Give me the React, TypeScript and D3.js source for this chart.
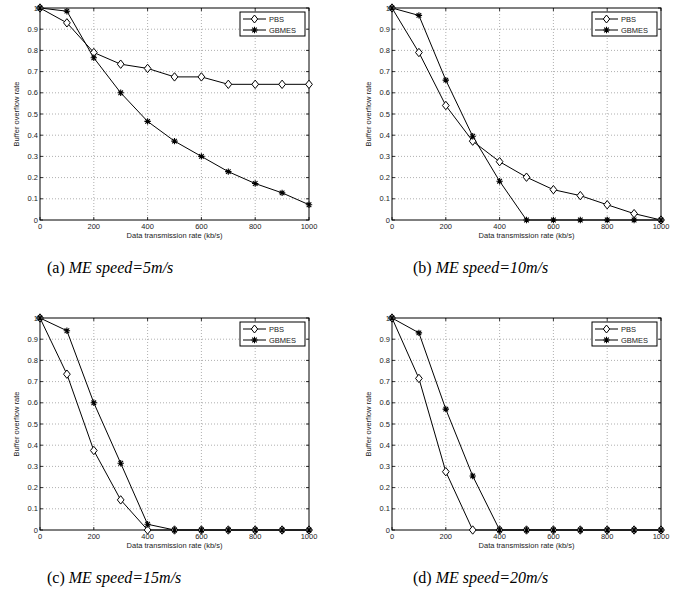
import * as d3 from "d3";
import React from "react";

// x values (kb/s) shared by every panel
const rates: number[] = [0, 100, 200, 300, 400, 500, 600, 700, 800, 900, 1000];
const xTicks: number[] = [0, 200, 400, 600, 800, 1000];
const yTicks: number[] = [0, 0.1, 0.2, 0.3, 0.4, 0.5, 0.6, 0.7, 0.8, 0.9, 1];
const seriesNames: string[] = ["PBS", "GBMES"];

// Buffer overflow rate, one array per panel and series
const pbs5: number[] = [1, 0.93, 0.79, 0.735, 0.715, 0.675, 0.675, 0.64, 0.64, 0.64, 0.64];
const gbmes5: number[] = [1, 0.985, 0.765, 0.6, 0.465, 0.372, 0.3, 0.228, 0.172, 0.128, 0.072];
const pbs10: number[] = [1, 0.79, 0.54, 0.372, 0.275, 0.202, 0.143, 0.115, 0.072, 0.03, 0];
const gbmes10: number[] = [1, 0.965, 0.66, 0.395, 0.183, 0, 0, 0, 0, 0, 0];
const pbs15: number[] = [1, 0.735, 0.375, 0.142, 0, 0, 0, 0, 0, 0, 0];
const gbmes15: number[] = [1, 0.94, 0.6, 0.315, 0.027, 0, 0, 0, 0, 0, 0];
const pbs20: number[] = [1, 0.715, 0.275, 0, 0, 0, 0, 0, 0, 0, 0];
const gbmes20: number[] = [1, 0.93, 0.57, 0.255, 0, 0, 0, 0, 0, 0, 0];

const captionLetters: string[] = ["(a)", "(b)", "(c)", "(d)"];
const captionTexts: string[] = ["ME speed=5m/s", "ME speed=10m/s", "ME speed=15m/s", "ME speed=20m/s"];

const xLabel = "Data transmission rate (kb/s)";
const yLabel = "Buffer overflow rate";

const panelData = [
  [pbs5, gbmes5],
  [pbs10, gbmes10],
  [pbs15, gbmes15],
  [pbs20, gbmes20],
];

// layout
const W = 689;
const H = 596;
const plotW = 269;
const plotH = 212;
const origins = [
  [40, 8],
  [392, 8],
  [40, 318],
  [392, 318],
];
const captionX = [47, 413, 47, 413];
const font = "'Liberation Sans', Arial, Helvetica, sans-serif";

const diamond = (s: number) => `M0,${-s}L${s * 0.8},0L0,${s}L${-s * 0.8},0Z`;
const star = (s: number) => {
  const d = s * 0.72;
  return `M0,${-s}V${s}M${-s},0H${s}M${-d},${-d}L${d},${d}M${-d},${d}L${d},${-d}`;
};

function Panel({ idx }: { idx: number }) {
  const [ox, oy] = origins[idx];
  const x = d3.scaleLinear().domain([0, 1000]).range([0, plotW]);
  const y = d3.scaleLinear().domain([0, 1]).range([plotH, 0]);
  const line = d3
    .line<number>()
    .x((_, i) => x(rates[i]))
    .y((d) => y(d));
  const [pbs, gbmes] = panelData[idx];

  return (
    <g transform={`translate(${ox},${oy})`}>
      {/* grid */}
      {xTicks.slice(1, -1).map((t) => (
        <line key={"gx" + t} x1={x(t)} x2={x(t)} y1={0} y2={plotH} stroke="#9a9a9a" strokeWidth={0.8} strokeDasharray="1,2" />
      ))}
      {yTicks.slice(1, -1).map((t) => (
        <line key={"gy" + t} x1={0} x2={plotW} y1={y(t)} y2={y(t)} stroke="#9a9a9a" strokeWidth={0.8} strokeDasharray="1,2" />
      ))}
      {/* ticks */}
      {xTicks.map((t) => (
        <g key={"tx" + t}>
          <line x1={x(t)} x2={x(t)} y1={plotH} y2={plotH - 3} stroke="#000" strokeWidth={0.8} />
          <line x1={x(t)} x2={x(t)} y1={0} y2={3} stroke="#000" strokeWidth={0.8} />
          <text x={x(t)} y={plotH + 9} fontSize={7.5} textAnchor="middle" fontFamily={font} fill="#222">
            {t}
          </text>
        </g>
      ))}
      {yTicks.map((t) => (
        <g key={"ty" + t}>
          <line x1={0} x2={3} y1={y(t)} y2={y(t)} stroke="#000" strokeWidth={0.8} />
          <line x1={plotW} x2={plotW - 3} y1={y(t)} y2={y(t)} stroke="#000" strokeWidth={0.8} />
          <text x={-2} y={y(t) + 2.6} fontSize={7.5} textAnchor="end" fontFamily={font} fill="#222">
            {t === 0 || t === 1 ? String(t) : t.toFixed(1)}
          </text>
        </g>
      ))}
      <rect x={0} y={0} width={plotW} height={plotH} fill="none" stroke="#000" strokeWidth={1} />
      {/* series */}
      <path d={line(pbs) || ""} fill="none" stroke="#000" strokeWidth={1} />
      <path d={line(gbmes) || ""} fill="none" stroke="#000" strokeWidth={1} />
      {pbs.map((v, i) => (
        <path key={"p" + i} d={diamond(4.2)} transform={`translate(${x(rates[i])},${y(v)})`} fill="#fff" stroke="#000" strokeWidth={1} />
      ))}
      {gbmes.map((v, i) => (
        <path key={"g" + i} d={star(3.2)} transform={`translate(${x(rates[i])},${y(v)})`} fill="none" stroke="#000" strokeWidth={1.1} />
      ))}
      {/* legend */}
      <g transform={`translate(${plotW - 69},4)`}>
        <rect x={0} y={0} width={65} height={24} fill="#fff" stroke="#000" strokeWidth={1} />
        {seriesNames.map((n, i) => (
          <g key={n} transform={`translate(0,${7 + i * 11})`}>
            <line x1={3} x2={26} y1={0} y2={0} stroke="#000" strokeWidth={1} />
            {i === 0 ? (
              <path d={diamond(4)} transform="translate(14.5,0)" fill="#fff" stroke="#000" strokeWidth={1} />
            ) : (
              <path d={star(3.2)} transform="translate(14.5,0)" fill="none" stroke="#000" strokeWidth={1.1} />
            )}
            <text x={29} y={2.7} fontSize={7.5} fontFamily={font} fill="#222">
              {n}
            </text>
          </g>
        ))}
      </g>
      {/* axis labels */}
      <text x={plotW / 2} y={plotH + 18} fontSize={7.5} textAnchor="middle" fontFamily={font} fill="#222">
        {xLabel}
      </text>
      <text transform={`translate(-21,${plotH / 2}) rotate(-90)`} fontSize={7.5} textAnchor="middle" fontFamily={font} fill="#222">
        {yLabel}
      </text>
      {/* caption */}
      <text x={captionX[idx] - ox} y={plotH + 53} fontSize={16} textAnchor="start" fontFamily="'Liberation Serif', 'Times New Roman', serif" fill="#000">
        {captionLetters[idx]} <tspan fontStyle="italic">{captionTexts[idx]}</tspan>
      </text>
    </g>
  );
}

export default function App() {
  return (
    <div style={{ position: "absolute", left: 0, top: 0 }}>
      <svg width={W} height={H} style={{ display: "block", background: "#fff" }}>
        {origins.map((_, i) => (
          <Panel key={i} idx={i} />
        ))}
      </svg>
    </div>
  );
}
